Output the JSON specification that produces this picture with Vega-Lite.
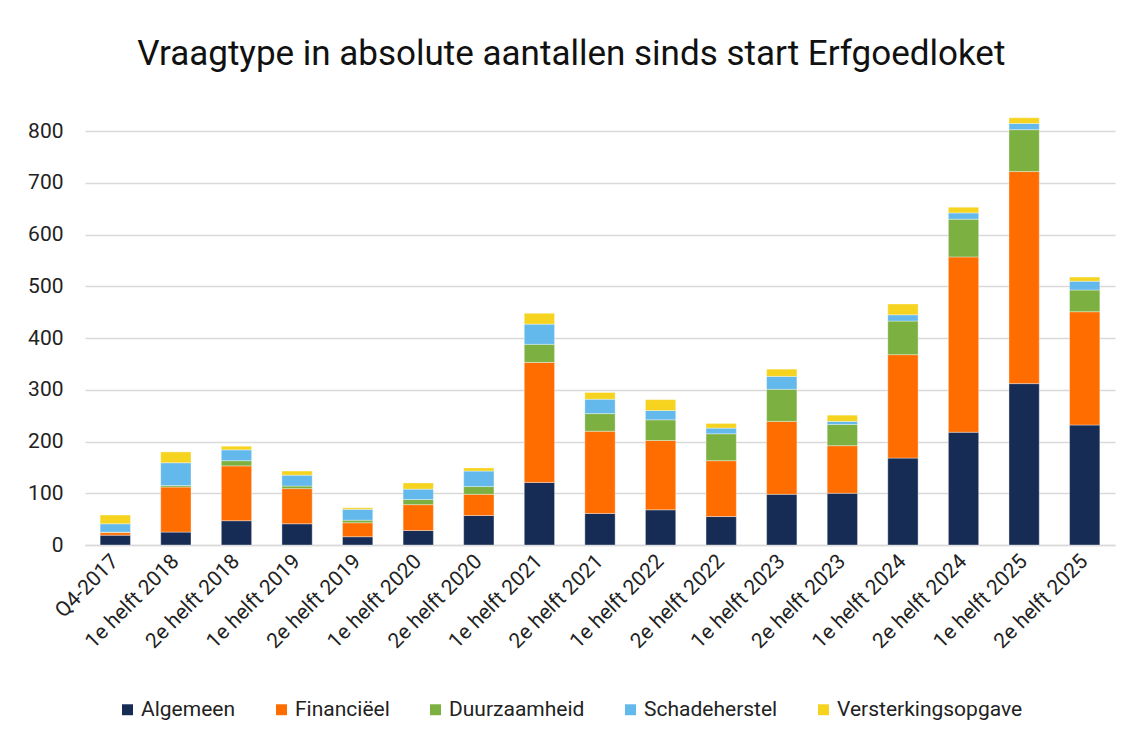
{
  "$schema": "https://vega.github.io/schema/vega-lite/v6.json",
  "width": 1030,
  "height": 450,
  "autosize": {"type": "none"},
  "padding": {"left": 85, "top": 95, "right": 14, "bottom": 193},
  "background": "white",
  "config": {
    "font": "Roboto",
    "view": {"stroke": null},
    "axis": {"labelFont": "Roboto", "labelColor": "#222222", "labelFontSize": 21, "titleFont": "Roboto"},
    "legend": {"labelFont": "Roboto", "labelColor": "#222222", "labelFontSize": 21}
  },
  "title": {
    "text": "Vraagtype in absolute aantallen sinds start Erfgoedloket",
    "font": "Roboto",
    "fontSize": 35,
    "fontWeight": "normal",
    "color": "#111111",
    "anchor": "middle",
    "frame": "bounds",
    "offset": 23
  },
  "data": {
    "values": [
      {"periode": "Q4-2017", "type": "Algemeen", "i": 1, "aantal": 19},
      {"periode": "Q4-2017", "type": "Financiëel", "i": 2, "aantal": 5},
      {"periode": "Q4-2017", "type": "Duurzaamheid", "i": 3, "aantal": 1},
      {"periode": "Q4-2017", "type": "Schadeherstel", "i": 4, "aantal": 16},
      {"periode": "Q4-2017", "type": "Versterkingsopgave", "i": 5, "aantal": 17},
      {"periode": "1e helft 2018", "type": "Algemeen", "i": 1, "aantal": 25},
      {"periode": "1e helft 2018", "type": "Financiëel", "i": 2, "aantal": 87},
      {"periode": "1e helft 2018", "type": "Duurzaamheid", "i": 3, "aantal": 3},
      {"periode": "1e helft 2018", "type": "Schadeherstel", "i": 4, "aantal": 44},
      {"periode": "1e helft 2018", "type": "Versterkingsopgave", "i": 5, "aantal": 21},
      {"periode": "2e helft 2018", "type": "Algemeen", "i": 1, "aantal": 47},
      {"periode": "2e helft 2018", "type": "Financiëel", "i": 2, "aantal": 106},
      {"periode": "2e helft 2018", "type": "Duurzaamheid", "i": 3, "aantal": 10},
      {"periode": "2e helft 2018", "type": "Schadeherstel", "i": 4, "aantal": 21},
      {"periode": "2e helft 2018", "type": "Versterkingsopgave", "i": 5, "aantal": 7},
      {"periode": "1e helft 2019", "type": "Algemeen", "i": 1, "aantal": 41},
      {"periode": "1e helft 2019", "type": "Financiëel", "i": 2, "aantal": 68},
      {"periode": "1e helft 2019", "type": "Duurzaamheid", "i": 3, "aantal": 5},
      {"periode": "1e helft 2019", "type": "Schadeherstel", "i": 4, "aantal": 21},
      {"periode": "1e helft 2019", "type": "Versterkingsopgave", "i": 5, "aantal": 8},
      {"periode": "2e helft 2019", "type": "Algemeen", "i": 1, "aantal": 16},
      {"periode": "2e helft 2019", "type": "Financiëel", "i": 2, "aantal": 27},
      {"periode": "2e helft 2019", "type": "Duurzaamheid", "i": 3, "aantal": 5},
      {"periode": "2e helft 2019", "type": "Schadeherstel", "i": 4, "aantal": 21},
      {"periode": "2e helft 2019", "type": "Versterkingsopgave", "i": 5, "aantal": 3},
      {"periode": "1e helft 2020", "type": "Algemeen", "i": 1, "aantal": 28},
      {"periode": "1e helft 2020", "type": "Financiëel", "i": 2, "aantal": 50},
      {"periode": "1e helft 2020", "type": "Duurzaamheid", "i": 3, "aantal": 10},
      {"periode": "1e helft 2020", "type": "Schadeherstel", "i": 4, "aantal": 20},
      {"periode": "1e helft 2020", "type": "Versterkingsopgave", "i": 5, "aantal": 12},
      {"periode": "2e helft 2020", "type": "Algemeen", "i": 1, "aantal": 57},
      {"periode": "2e helft 2020", "type": "Financiëel", "i": 2, "aantal": 41},
      {"periode": "2e helft 2020", "type": "Duurzaamheid", "i": 3, "aantal": 15},
      {"periode": "2e helft 2020", "type": "Schadeherstel", "i": 4, "aantal": 30},
      {"periode": "2e helft 2020", "type": "Versterkingsopgave", "i": 5, "aantal": 6},
      {"periode": "1e helft 2021", "type": "Algemeen", "i": 1, "aantal": 121},
      {"periode": "1e helft 2021", "type": "Financiëel", "i": 2, "aantal": 232},
      {"periode": "1e helft 2021", "type": "Duurzaamheid", "i": 3, "aantal": 35},
      {"periode": "1e helft 2021", "type": "Schadeherstel", "i": 4, "aantal": 39},
      {"periode": "1e helft 2021", "type": "Versterkingsopgave", "i": 5, "aantal": 21},
      {"periode": "2e helft 2021", "type": "Algemeen", "i": 1, "aantal": 61},
      {"periode": "2e helft 2021", "type": "Financiëel", "i": 2, "aantal": 159},
      {"periode": "2e helft 2021", "type": "Duurzaamheid", "i": 3, "aantal": 34},
      {"periode": "2e helft 2021", "type": "Schadeherstel", "i": 4, "aantal": 28},
      {"periode": "2e helft 2021", "type": "Versterkingsopgave", "i": 5, "aantal": 13},
      {"periode": "1e helft 2022", "type": "Algemeen", "i": 1, "aantal": 68},
      {"periode": "1e helft 2022", "type": "Financiëel", "i": 2, "aantal": 134},
      {"periode": "1e helft 2022", "type": "Duurzaamheid", "i": 3, "aantal": 40},
      {"periode": "1e helft 2022", "type": "Schadeherstel", "i": 4, "aantal": 18},
      {"periode": "1e helft 2022", "type": "Versterkingsopgave", "i": 5, "aantal": 21},
      {"periode": "2e helft 2022", "type": "Algemeen", "i": 1, "aantal": 55},
      {"periode": "2e helft 2022", "type": "Financiëel", "i": 2, "aantal": 108},
      {"periode": "2e helft 2022", "type": "Duurzaamheid", "i": 3, "aantal": 52},
      {"periode": "2e helft 2022", "type": "Schadeherstel", "i": 4, "aantal": 11},
      {"periode": "2e helft 2022", "type": "Versterkingsopgave", "i": 5, "aantal": 9},
      {"periode": "1e helft 2023", "type": "Algemeen", "i": 1, "aantal": 98},
      {"periode": "1e helft 2023", "type": "Financiëel", "i": 2, "aantal": 141},
      {"periode": "1e helft 2023", "type": "Duurzaamheid", "i": 3, "aantal": 62},
      {"periode": "1e helft 2023", "type": "Schadeherstel", "i": 4, "aantal": 25},
      {"periode": "1e helft 2023", "type": "Versterkingsopgave", "i": 5, "aantal": 14},
      {"periode": "2e helft 2023", "type": "Algemeen", "i": 1, "aantal": 100},
      {"periode": "2e helft 2023", "type": "Financiëel", "i": 2, "aantal": 92},
      {"periode": "2e helft 2023", "type": "Duurzaamheid", "i": 3, "aantal": 41},
      {"periode": "2e helft 2023", "type": "Schadeherstel", "i": 4, "aantal": 6},
      {"periode": "2e helft 2023", "type": "Versterkingsopgave", "i": 5, "aantal": 12},
      {"periode": "1e helft 2024", "type": "Algemeen", "i": 1, "aantal": 168},
      {"periode": "1e helft 2024", "type": "Financiëel", "i": 2, "aantal": 200},
      {"periode": "1e helft 2024", "type": "Duurzaamheid", "i": 3, "aantal": 65},
      {"periode": "1e helft 2024", "type": "Schadeherstel", "i": 4, "aantal": 12},
      {"periode": "1e helft 2024", "type": "Versterkingsopgave", "i": 5, "aantal": 21},
      {"periode": "2e helft 2024", "type": "Algemeen", "i": 1, "aantal": 218},
      {"periode": "2e helft 2024", "type": "Financiëel", "i": 2, "aantal": 339},
      {"periode": "2e helft 2024", "type": "Duurzaamheid", "i": 3, "aantal": 73},
      {"periode": "2e helft 2024", "type": "Schadeherstel", "i": 4, "aantal": 12},
      {"periode": "2e helft 2024", "type": "Versterkingsopgave", "i": 5, "aantal": 11},
      {"periode": "1e helft 2025", "type": "Algemeen", "i": 1, "aantal": 312},
      {"periode": "1e helft 2025", "type": "Financiëel", "i": 2, "aantal": 410},
      {"periode": "1e helft 2025", "type": "Duurzaamheid", "i": 3, "aantal": 81},
      {"periode": "1e helft 2025", "type": "Schadeherstel", "i": 4, "aantal": 12},
      {"periode": "1e helft 2025", "type": "Versterkingsopgave", "i": 5, "aantal": 11},
      {"periode": "2e helft 2025", "type": "Algemeen", "i": 1, "aantal": 232},
      {"periode": "2e helft 2025", "type": "Financiëel", "i": 2, "aantal": 219},
      {"periode": "2e helft 2025", "type": "Duurzaamheid", "i": 3, "aantal": 42},
      {"periode": "2e helft 2025", "type": "Schadeherstel", "i": 4, "aantal": 17},
      {"periode": "2e helft 2025", "type": "Versterkingsopgave", "i": 5, "aantal": 8}
    ]
  },
  "mark": {"type": "bar", "stroke": "white", "strokeWidth": 0.6, "strokeOpacity": 0.6},
  "encoding": {
    "x": {
      "field": "periode",
      "type": "nominal",
      "sort": null,
      "scale": {"paddingInner": 0.5, "paddingOuter": 0.25},
      "axis": {
        "title": null,
        "labelAngle": -45,
        "labelAlign": "right",
        "labelBaseline": "middle",
        "labelPadding": 13,
        "ticks": false,
        "domainColor": "#d9d9d9",
        "domainWidth": 1.5,
        "labelFontSize": 21
      }
    },
    "y": {
      "field": "aantal",
      "type": "quantitative",
      "aggregate": "sum",
      "stack": "zero",
      "scale": {"domain": [0, 870], "nice": false},
      "axis": {
        "title": null,
        "values": [0, 100, 200, 300, 400, 500, 600, 700, 800],
        "ticks": false,
        "domain": false,
        "labelPadding": 22,
        "gridColor": "#d9d9d9",
        "gridWidth": 1.5,
        "labelFontSize": 21
      }
    },
    "color": {
      "field": "type",
      "type": "nominal",
      "sort": ["Algemeen", "Financiëel", "Duurzaamheid", "Schadeherstel", "Versterkingsopgave"],
      "scale": {
        "domain": ["Algemeen", "Financiëel", "Duurzaamheid", "Schadeherstel", "Versterkingsopgave"],
        "range": ["#172c55", "#ff6d00", "#7cb041", "#63b8ec", "#f5d31f"]
      },
      "legend": {
        "title": null,
        "orient": "none",
        "legendX": 32,
        "legendY": 604,
        "direction": "horizontal",
        "symbolType": "square",
        "symbolSize": 120,
        "symbolStrokeWidth": 0,
        "labelOffset": 3,
        "columnPadding": 35,
        "labelLimit": 400,
        "labelFontSize": 21
      }
    },
    "order": {"field": "i", "type": "quantitative", "sort": "ascending"}
  }
}
